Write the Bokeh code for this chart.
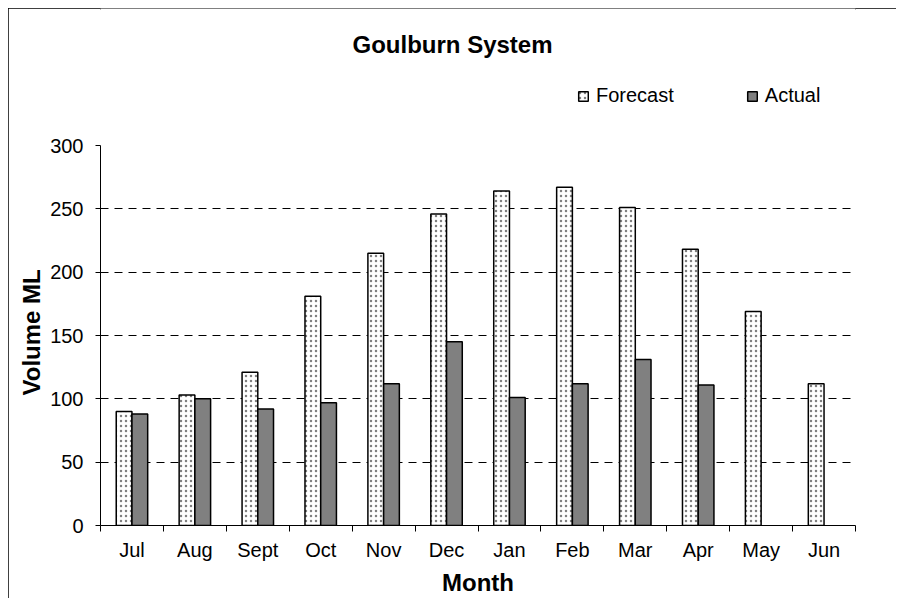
from bokeh.plotting import figure
from bokeh.models import (Range1d, FixedTicker, ColumnDataSource, Legend, LegendItem, Label, Title)
from bokeh.embed import file_html
from bokeh.resources import INLINE

# ---- data ----
months = ["Jul", "Aug", "Sept", "Oct", "Nov", "Dec", "Jan", "Feb", "Mar", "Apr", "May", "Jun"]
forecast = [90, 103, 121, 181, 215, 246, 264, 267, 251, 218, 169, 112]
actual = [88, 100, 92, 97, 112, 145, 101, 112, 131, 111]  # May, Jun not yet reported
y_ticks = [0, 50, 100, 150, 200, 250, 300]
grid_ticks = [50, 100, 150, 200, 250]
title_text = "Goulburn System"
y_label = "Volume ML"
x_label = "Month"

FONT = "Liberation Sans"
BAR_W = 0.25
Y_MAX = 300
# the frame extends above the axis top to host title & legend (380 px for 0..300, 517 px total)
Y_VIEW_TOP = Y_MAX * 517 / 380

centers = [i + 0.5 for i in range(len(months))]
boundaries = list(range(len(months) + 1))

src_f = ColumnDataSource(dict(x=[c - BAR_W / 2 for c in centers], top=forecast))
src_a = ColumnDataSource(dict(x=[centers[i] + BAR_W / 2 for i in range(len(actual))], top=actual))

p = figure(width=888, height=590, output_backend="svg", toolbar_location=None,
           x_range=Range1d(0, len(months)), y_range=Range1d(0, Y_VIEW_TOP),
           min_border_left=92, min_border_right=41, min_border_top=0, min_border_bottom=73)
p.margin = (8, 0, 0, 8)
p.outline_line_color = None
p.background_fill_color = "white"
p.border_fill_color = "white"
p.styles = {"outline": "2px solid black", "outline-offset": "-2px"}

rf = p.vbar(x="x", top="top", bottom=0, width=BAR_W, source=src_f,
            fill_color="white", line_color="black", line_width=1.5,
            hatch_pattern=".", hatch_color="#808080", hatch_scale=5, hatch_weight=1.2)
ra = p.vbar(x="x", top="top", bottom=0, width=BAR_W, source=src_a,
            fill_color="#808080", line_color="black", line_width=1.5)

# axes
xa = p.xaxis[0]
xa.ticker = FixedTicker(ticks=centers, minor_ticks=boundaries)
xa.major_label_overrides = {c: m for c, m in zip(centers, months)}
xa.major_tick_line_color = None
xa.minor_tick_line_color = "black"
xa.minor_tick_out = 6
xa.minor_tick_in = 0
xa.major_label_text_font = FONT
xa.major_label_text_font_size = "20px"
xa.major_label_text_color = "black"
xa.major_label_standoff = 7
xa.axis_label = x_label
xa.axis_label_text_font = FONT
xa.axis_label_text_font_size = "24px"
xa.axis_label_text_font_style = "bold"
xa.axis_label_text_color = "black"
xa.axis_label_standoff = 5
xa.axis_line_color = "black"

ya = p.yaxis[0]
ya.bounds = (0, Y_MAX)
ya.ticker = FixedTicker(ticks=y_ticks, minor_ticks=[])
ya.major_tick_out = 5
ya.major_tick_in = 0
ya.major_tick_line_color = "black"
ya.minor_tick_line_color = None
ya.major_label_text_font = FONT
ya.major_label_text_font_size = "20px"
ya.major_label_text_color = "black"
ya.major_label_standoff = 12
ya.axis_line_color = "black"

# y-axis title, centred on the 0..300 part of the axis (placed as a side title)
p.add_layout(Title(text=y_label, align="left", offset=130, standoff=6,
                   vertical_align="bottom", text_font=FONT, text_font_size="24px",
                   text_font_style="bold", text_color="black"), "left")

p.xgrid.grid_line_color = None
p.ygrid.ticker = FixedTicker(ticks=grid_ticks, minor_ticks=[])
p.ygrid.grid_line_color = "black"
p.ygrid.grid_line_dash = "8 6"
p.ygrid.grid_line_width = 1

legend = Legend(items=[LegendItem(label="Forecast", renderers=[rf]),
                       LegendItem(label="Actual", renderers=[ra])],
                orientation="horizontal", location=(477, 418),
                padding=0, margin=0, spacing=72, border_line_color=None,
                background_fill_alpha=0, glyph_width=12, glyph_height=12,
                label_standoff=7, label_text_font=FONT, label_text_font_size="20px",
                label_text_color="black")
p.add_layout(legend, "center")

p.add_layout(Label(x=252, y=481, x_units="screen", y_units="screen", text=title_text,
                   text_align="left", text_baseline="alphabetic", text_font=FONT,
                   text_font_size="24px", text_font_style="bold", text_color="black"))

open("out.html", "w").write(file_html(p, INLINE))
